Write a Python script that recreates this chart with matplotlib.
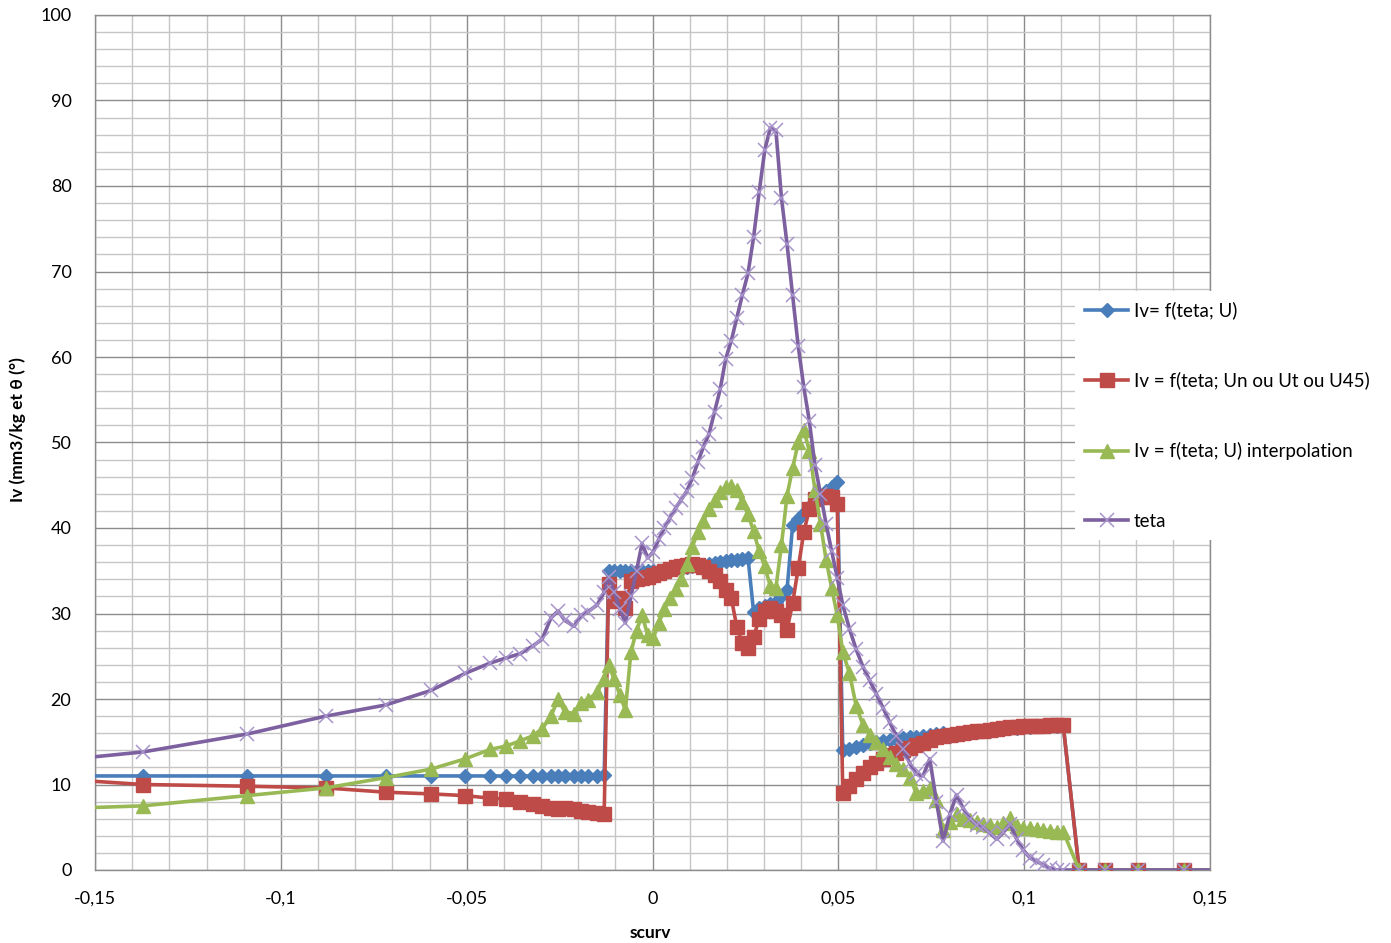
import matplotlib
matplotlib.use('Agg')
import matplotlib.pyplot as plt
from matplotlib.ticker import MultipleLocator, FixedLocator, FixedFormatter
from matplotlib.lines import Line2D

plt.rcParams['font.family'] = ['Lato', 'DejaVu Sans']

# ---------------- data ----------------
scurv = [
    # left part
    -0.165, -0.1372, -0.1091, -0.0879, -0.0718, -0.0596, -0.0504, -0.0437, -0.0394, -0.0356,
    -0.0322, -0.0297, -0.0273, -0.0254, -0.0236, -0.0211, -0.0192, -0.0174, -0.0149, -0.0130,
    # central part
    -0.0118, -0.0103, -0.0088, -0.0073, -0.0058, -0.0043, -0.0028, -0.0013, 0.0002, 0.0017,
    0.0032, 0.0047, 0.0062, 0.0077, 0.0092, 0.0107, 0.0122, 0.0137, 0.0152, 0.0167,
    0.0182, 0.0197, 0.0212, 0.0227, 0.0242, 0.0257, 0.0272, 0.0287, 0.0302, 0.0317,
    0.0332, 0.0347, 0.0362, 0.0377, 0.0392, 0.0407, 0.0422, 0.0437, 0.0452, 0.0467,
    0.0482, 0.0497,
    # right part
    0.0512, 0.0530, 0.0548, 0.0566, 0.0584, 0.0602, 0.0620, 0.0638, 0.0656, 0.0674,
    0.0692, 0.0710, 0.0728, 0.0746, 0.0764, 0.0782, 0.0800, 0.0818, 0.0836, 0.0854,
    0.0872, 0.0890, 0.0908, 0.0926, 0.0944, 0.0962, 0.0980, 0.0998, 0.1016, 0.1034,
    0.1052, 0.1070, 0.1088, 0.1105,
    # tail
    0.1148, 0.1218, 0.1307, 0.1430, 0.1600,
]

iv_u = [
    11.0, 11.0, 11.0, 11.0, 11.0, 11.0, 11.0, 11.0, 11.0, 11.0,
    11.0, 11.0, 11.0, 11.0, 11.0, 11.0, 11.0, 11.0, 11.0, 11.1,
    35.0, 35.0, 35.0, 35.0, 35.0, 35.0, 35.0, 35.0, 35.0, 35.0,
    35.1, 35.1, 35.2, 35.3, 35.4, 35.5, 35.6, 35.7, 35.8, 35.9,
    36.0, 36.1, 36.2, 36.3, 36.4, 36.5, 30.2, 30.6, 30.9, 31.1,
    31.4, 32.0, 32.8, 40.3, 41.0, 41.8, 42.5, 43.2, 43.8, 44.3,
    44.8, 45.4,
    14.0, 14.2, 14.4, 14.6, 14.8, 15.0, 15.1, 15.2, 15.3, 15.4,
    15.5, 15.6, 15.7, 15.8, 15.9, 16.0, 15.7, 15.8, 15.9, 16.0,
    16.1, 16.2, 16.3, 16.4, 16.5, 16.6, 16.6, 16.7, 16.7, 16.8,
    16.8, 16.9, 16.9, 16.9,
    0.0, 0.0, 0.0, 0.0, 0.0,
]

iv_un = [
    10.8, 10.0, 9.8, 9.6, 9.1, 8.9, 8.7, 8.4, 8.3, 7.9,
    7.7, 7.5, 7.3, 7.1, 7.3, 7.1, 6.9, 6.8, 6.7, 6.6,
    33.5, 31.5, 31.8, 30.6, 33.8, 34.0, 34.1, 34.3, 34.5, 34.7,
    35.0, 35.2, 35.4, 35.6, 35.7, 35.8, 35.7, 35.4, 35.0, 34.5,
    33.8, 32.8, 31.8, 28.4, 26.5, 26.0, 27.3, 29.3, 30.3, 30.6,
    30.3, 29.8, 28.1, 31.2, 35.3, 39.5, 42.2, 43.4, 43.6, 43.8,
    43.6, 42.8,
    9.0, 9.8, 10.6, 11.4, 12.0, 12.5, 13.0, 13.4, 13.7, 14.0,
    14.3, 14.6, 14.9, 15.2, 15.5, 15.7, 15.8, 15.9, 16.0, 16.1,
    16.2, 16.3, 16.4, 16.5, 16.6, 16.7, 16.7, 16.8, 16.8, 16.9,
    16.9, 17.0, 17.0, 17.0,
    0.0, 0.0, 0.0, 0.0, 0.0,
]

iv_interp = [
    7.1, 7.5, 8.7, 9.6, 10.8, 11.8, 13.0, 14.1, 14.5, 15.1,
    15.7, 16.5, 18.0, 20.0, 18.5, 18.3, 19.5, 19.9, 20.8, 22.3,
    24.0, 22.3, 20.5, 18.7, 25.5, 28.0, 29.8, 27.5, 27.1, 28.9,
    30.5, 31.8, 32.9, 34.0, 35.8, 37.8, 39.5, 40.8, 42.2, 43.3,
    44.2, 44.8, 44.9, 44.4, 43.0, 41.6, 39.6, 37.3, 35.5, 33.2,
    33.0, 38.0, 43.8, 47.0, 50.0, 51.5, 49.0, 44.5, 40.5, 36.3,
    33.0, 29.8,
    25.5, 23.0, 19.2, 17.0, 15.8, 15.0, 14.2, 13.2, 12.4, 11.8,
    10.8, 9.0, 9.2, 9.6, 8.2, 4.7, 5.6, 6.5, 6.0, 5.8,
    5.6, 5.4, 5.3, 5.0, 5.5, 6.1, 5.2, 4.9, 4.9, 4.8,
    4.7, 4.6, 4.5, 4.5,
    0.0, 0.0, 0.0, 0.0, 0.0,
]

teta = [
    12.6, 13.8, 15.9, 18.0, 19.3, 21.0, 23.0, 24.2, 24.8, 25.3,
    26.2, 27.0, 29.5, 30.3, 29.2, 28.5, 29.8, 30.2, 31.0, 32.5,
    34.3, 32.5, 30.5, 28.9, 32.0, 35.0, 38.2, 36.5, 37.2, 38.7,
    40.0, 41.2, 42.3, 43.3, 44.3, 45.8, 47.7, 49.5, 51.0, 53.6,
    56.2, 59.8, 61.9, 64.6, 67.3, 69.8, 74.0, 79.3, 84.2, 86.8,
    86.5, 78.6, 73.2, 67.2, 61.3, 56.5, 52.5, 47.4, 44.0, 40.5,
    37.3, 34.2,
    31.0, 28.2, 25.8, 23.8, 22.2, 20.6, 19.0, 17.3, 15.7, 14.2,
    12.5, 11.2, 11.0, 13.0, 8.0, 3.4, 6.5, 8.8, 7.2, 6.0,
    5.3, 5.0, 4.3, 3.6, 4.4, 5.4, 3.6, 2.3, 1.4, 1.0,
    0.6, 0.2, 0.0, 0.0,
    0.0, 0.0, 0.0, 0.0, 0.0,
]

series_labels = [
    "Iv= f(teta; U)",
    "Iv = f(teta; Un ou Ut ou U45)",
    "Iv = f(teta; U) interpolation",
    "teta",
]

x_ticks = [-0.15, -0.1, -0.05, 0.0, 0.05, 0.1, 0.15]
x_tick_labels = ["-0,15", "-0,1", "-0,05", "0", "0,05", "0,1", "0,15"]
y_ticks = [0, 10, 20, 30, 40, 50, 60, 70, 80, 90, 100]
y_tick_labels = [str(v) for v in y_ticks]

# ---------------- figure ----------------
W, H = 1391, 943
fig = plt.figure(figsize=(W / 100, H / 100), dpi=100)
fig.patch.set_facecolor('white')
ax = fig.add_axes([95 / W, (H - 870) / H, (1210 - 95) / W, (870 - 15) / H])

blue = '#4A7EBB'
red = '#BE4B48'
green = '#98B954'
purple = '#7D60A0'
purple_marker = '#A895CC'

lw = 2.6
ax.plot(scurv, iv_u, color=blue, lw=lw, marker='D', ms=7,
        mfc=blue, mec=blue, zorder=3)
ax.plot(scurv, iv_un, color=red, lw=lw, marker='s', ms=10,
        mfc=red, mec=red, zorder=4)
ax.plot(scurv, iv_interp, color=green, lw=lw, marker='^', ms=9.5,
        mfc=green, mec=green, zorder=5)
ax.plot(scurv, teta, color=purple, lw=lw, zorder=6)
ax.plot(scurv, teta, ls='none', marker='x', ms=10, mew=1.1,
        color=purple_marker, zorder=6)

ax.set_xlim(-0.15, 0.15)
ax.set_ylim(0, 100)
ax.xaxis.set_major_locator(FixedLocator(x_ticks))
ax.xaxis.set_major_formatter(FixedFormatter(x_tick_labels))
ax.xaxis.set_minor_locator(MultipleLocator(0.01))
ax.yaxis.set_major_locator(FixedLocator(y_ticks))
ax.yaxis.set_major_formatter(FixedFormatter(y_tick_labels))
ax.yaxis.set_minor_locator(MultipleLocator(2))
ax.grid(which='major', color='#8c8c8c', lw=1.0)
ax.grid(which='minor', color='#c6c6c6', lw=1.0)
ax.set_axisbelow(True)
ax.tick_params(which='both', length=0)
ax.tick_params(axis='x', pad=15, labelsize=13)
ax.tick_params(axis='y', pad=17, labelsize=13)
for s in ax.spines.values():
    s.set_color('#8c8c8c')
    s.set_linewidth(1.0)

fig.text(650 / W, 1 - 933 / H, 'scurv', ha='center', va='center',
         fontsize=12.5, fontweight='bold')
fig.text(18 / W, 1 - 430 / H, 'Iv (mm3/kg et θ (°)', ha='center', va='center',
         rotation=90, fontsize=12.5, fontweight='bold')

handles = [
    Line2D([], [], color=blue, lw=lw, marker='D', ms=7),
    Line2D([], [], color=red, lw=lw, marker='s', ms=10),
    Line2D([], [], color=green, lw=lw, marker='^', ms=9.5),
    Line2D([], [], color=purple, lw=lw, marker='x', ms=10, mew=1.1,
           mec=purple_marker),
]
leg = ax.legend(handles, series_labels, loc='upper left',
                bbox_to_anchor=(1075 / W, 1 - 291 / H),
                bbox_transform=fig.transFigure, frameon=True,
                facecolor='white', edgecolor='none', framealpha=1,
                fontsize=13.5, labelspacing=2.8, handlelength=2.3,
                handletextpad=0.27, borderpad=0.55, borderaxespad=0)
leg.set_zorder(10)

fig.savefig('out.png', dpi=100, facecolor='white')
